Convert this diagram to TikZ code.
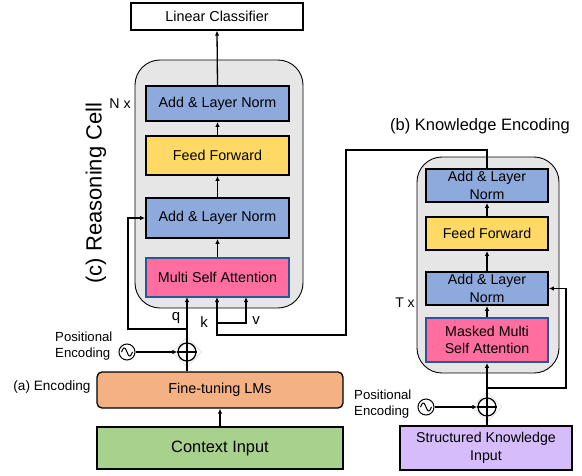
\documentclass[tikz,border=0pt]{standalone}
\usepackage{fontspec}
\setmainfont{Liberation Sans}
\usetikzlibrary{arrows.meta,shapes.geometric,calc}
\definecolor{cblue}{HTML}{8EA9DB}
\definecolor{cyellow}{HTML}{FFD966}
\definecolor{cpink}{HTML}{FF6E9E}
\definecolor{cpinkb}{HTML}{2F5597}
\definecolor{corange}{HTML}{F4B183}
\definecolor{cgreen}{HTML}{A9D18E}
\definecolor{cpurple}{HTML}{D6BCFA}
\definecolor{cgrey}{HTML}{E7E6E6}
\tikzset{
  box/.style={draw=black, line width=1.8pt, minimum width=143pt, inner sep=0pt, font=\fontsize{14.3}{16}\selectfont, align=center},
  aln/.style={box, fill=cblue},
  ffw/.style={box, fill=cyellow},
  msa/.style={box, fill=cpink, draw=cpinkb},
  kbox/.style={minimum width=122pt, minimum height=33pt, font=\fontsize{14.2}{17.5}\selectfont},
  cell/.style={draw=black, line width=0.9pt, fill=cgrey, rounded corners=25pt},
  arr/.style={line width=1.3pt, -{Latex[length=5pt,width=4.5pt]}},
  ln/.style={line width=1.3pt},
  plusn/.style={circle, draw=black, line width=1.3pt, minimum size=18pt, inner sep=0pt},
  sinen/.style={circle, draw=black, line width=1pt, minimum size=16pt, inner sep=0pt},
  halo/.style={diamond, draw=gray!25, line width=0.6pt, minimum size=30pt, inner sep=0pt},
  lbl/.style={font=\fontsize{13.2}{16}\selectfont, align=left, inner sep=0pt},
  qkv/.style={font=\fontsize{15}{17}\selectfont, inner sep=0pt},
}
\begin{document}
\begin{tikzpicture}[x=1pt,y=-1pt]
\useasboundingbox (0,0) rectangle (582,475);

% ---------- reasoning cell ----------
\node[draw=black, line width=1.2pt, fill=white, minimum width=172pt, minimum height=27pt, inner sep=0pt, font=\fontsize{14.4}{16}\selectfont] (LC) at (217,16.5) {Linear Classifier};
\draw[cell] (135,60) rectangle (303,308);
\node[aln, minimum height=35pt] (ALN1) at (217.5,103.5) {Add \& Layer Norm};
\node[ffw, minimum height=39pt] (FF) at (217.5,155.5) {Feed Forward};
\node[aln, minimum height=40pt] (ALN2) at (217.5,218) {Add \& Layer Norm};
\node[msa, minimum height=39pt] (MSA) at (217.5,277.5) {Multi Self Attention};

\draw[arr] (ALN1.north) -- (LC.south);
\draw[arr] (FF.north) -- (ALN1.south);
\draw[arr] (ALN2.north) -- (FF.south);
\draw[arr] (MSA.north) -- (ALN2.south);

\node[font=\fontsize{14.2}{16}\selectfont, inner sep=0pt] (NX) at (120,104) {N x};
\node[rotate=90, font=\fontsize{22}{25}\selectfont, inner sep=0pt] (RC) at (96,193) {(c) Reasoning Cell};

% ---------- encoding ----------
\node[draw=black, line width=1.3pt, fill=corange, rounded corners=5pt, minimum width=246pt, minimum height=36pt, inner sep=0pt, font=\fontsize{14.4}{17}\selectfont] (FT) at (220,390) {Fine-tuning LMs};
\node[draw=black, line width=2.2pt, fill=cgreen, minimum width=246pt, minimum height=42pt, inner sep=0pt, font=\fontsize{16.4}{19}\selectfont] (CI) at (220,448) {Context Input};
\draw[arr] (CI.north) -- (FT.south);
\node[font=\fontsize{13.6}{16}\selectfont, inner sep=0pt] (AE) at (52,387) {(a) Encoding};

\node[halo] (H1) at (187,352) {};
\node[plusn] (P1) at (187,352) {};
\draw[line width=1.3pt] (P1.north) -- (P1.south) (P1.west) -- (P1.east);
\node[sinen] (S1) at (127,352) {};
\draw[line width=1pt] plot[domain=-5.5:5.5, samples=40] ({127+\x}, {352+4*sin(\x*33)});
\node[lbl, anchor=west] (PE1) at (55,346) {Positional\\Encoding};
\draw[arr] (S1) -- (P1);
\draw[ln] (FT.north -| P1) -- (P1.south);

% q, k, v
\coordinate (qt) at (187,297);
\coordinate (qj) at (187,329);
\coordinate (qb) at (128,329);
\coordinate (qc) at (128,218);
\draw[arr] (P1.north) -- (qt);
\draw[arr] (qj) -- (qb) -- (qc) -- (ALN2.west);

\coordinate (kt) at (217,297);
\coordinate (kv) at (217,323);
\coordinate (vv) at (246,323);
\coordinate (vt) at (246,297);
\draw[arr] (kv) -- (vv) -- (vt);

\node[qkv] (qL) at (176,318) {q};
\node[qkv] (kL) at (204,322) {k};
\node[qkv] (vL) at (256,321) {v};

% ---------- knowledge encoding ----------
\node[font=\fontsize{16.5}{19}\selectfont, inner sep=0pt] (KE) at (480,126) {(b) Knowledge Encoding};
\draw[cell] (417,157) rectangle (559,373);
\node[aln, kbox] (KA1) at (487,185.5) {Add \& Layer\\Norm};
\node[ffw, kbox] (KF) at (487,233.5) {Feed Forward};
\node[aln, kbox] (KA2) at (487,288.5) {Add \& Layer\\Norm};
\node[msa, kbox, minimum height=44pt] (KM) at (487,340) {Masked Multi\\Self Attention};
\draw[arr] (KF.north) -- (KA1.south);
\draw[arr] (KA2.north) -- (KF.south);
\draw[arr] (KM.north) -- (KA2.south);
\node[font=\fontsize{14}{16}\selectfont, inner sep=0pt] (TX) at (405,303) {T x};

% k connection from knowledge to reasoning cell
\coordinate (c1) at (487,150);
\coordinate (c2) at (346,150);
\coordinate (c3) at (346,335);
\coordinate (c4) at (217,335);
\draw[arr] (KA1.north) -- (c1) -- (c2) -- (c3) -- (c4) -- (kt);

\node[draw=black, line width=2.2pt, fill=cpurple, minimum width=172pt, minimum height=44pt, inner sep=0pt, align=center, font=\fontsize{14.2}{18}\selectfont] (SK) at (486,448) {Structured Knowledge\\Input};
\node[halo] (H2) at (487,407) {};
\node[plusn] (P2) at (487,407) {};
\draw[line width=1.3pt] (P2.north) -- (P2.south) (P2.west) -- (P2.east);
\node[sinen] (S2) at (426,407) {};
\draw[line width=1pt] plot[domain=-5.5:5.5, samples=40] ({426+\x}, {407+4*sin(\x*33)});
\node[lbl, anchor=west] (PE2) at (354,404) {Positional\\Encoding};
\draw[arr] (S2) -- (P2);
\draw[ln] (SK.north -| P2) -- (P2.south);
\draw[arr] (P2.north) -- (KM.south);

\coordinate (r1) at (487,388);
\coordinate (r2) at (566,388);
\coordinate (r3) at (566,288.5);
\draw[arr] (r1) -- (r2) -- (r3) -- (KA2.east);
\end{tikzpicture}
\end{document}
